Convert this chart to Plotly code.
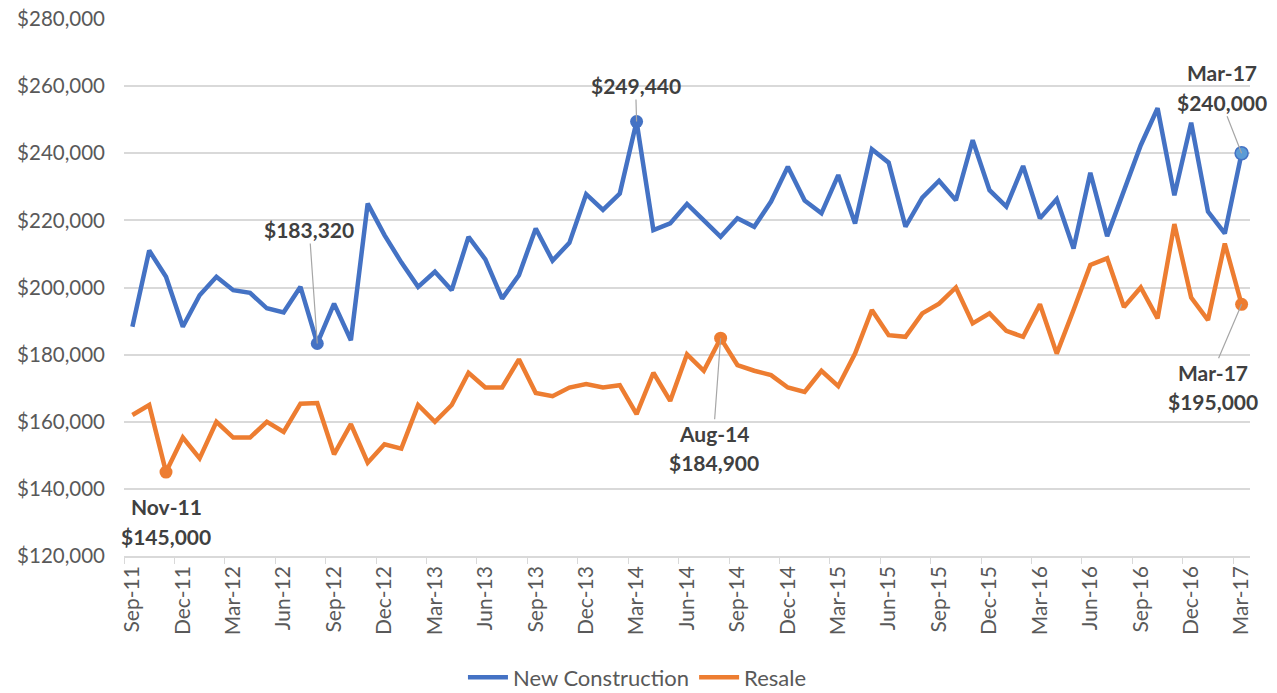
import plotly.graph_objects as go

months = ["Sep-11","Oct-11","Nov-11","Dec-11","Jan-12","Feb-12","Mar-12","Apr-12","May-12","Jun-12","Jul-12","Aug-12",
          "Sep-12","Oct-12","Nov-12","Dec-12","Jan-13","Feb-13","Mar-13","Apr-13","May-13","Jun-13","Jul-13","Aug-13",
          "Sep-13","Oct-13","Nov-13","Dec-13","Jan-14","Feb-14","Mar-14","Apr-14","May-14","Jun-14","Jul-14","Aug-14",
          "Sep-14","Oct-14","Nov-14","Dec-14","Jan-15","Feb-15","Mar-15","Apr-15","May-15","Jun-15","Jul-15","Aug-15",
          "Sep-15","Oct-15","Nov-15","Dec-15","Jan-16","Feb-16","Mar-16","Apr-16","May-16","Jun-16","Jul-16","Aug-16",
          "Sep-16","Oct-16","Nov-16","Dec-16","Jan-17","Feb-17","Mar-17"]

new_construction = [188300, 211000, 203200, 188300, 197700, 203200, 199200, 198400, 193800, 192600, 200200, 183320,
                    195200, 184300, 225000, 215600, 207500, 200200, 204700, 199200, 215100, 208400, 196700, 203700,
                    217600, 208000, 213300, 227800, 223100, 228000, 249440, 217100, 219100, 224900, 220000, 215100,
                    220600, 218100, 225600, 236000, 225900, 222100, 233500, 219100, 241200, 237200, 218100, 226800,
                    231800, 226000, 243900, 229000, 224100, 236200, 220600, 226300, 211600, 234200, 215300, 229000,
                    242400, 253400, 227500, 249100, 222600, 216100, 240000]

resale = [162000, 165000, 145000, 155300, 149100, 160000, 155300, 155300, 160000, 157000, 165400, 165600,
          150300, 159300, 147800, 153300, 152000, 165000, 160000, 165000, 174600, 170200, 170200, 178600,
          168600, 167600, 170200, 171200, 170200, 170900, 162300, 174600, 166200, 180100, 175200, 184900,
          176900, 175200, 173900, 170200, 168900, 175200, 170600, 180300, 193300, 185800, 185300, 192300,
          195200, 200000, 189300, 192300, 187100, 185300, 195000, 180300, 193300, 206700, 208700, 194200,
          200000, 190800, 218900, 197000, 190300, 213100, 195000]

BLUE = "#4472C4"
ORANGE = "#ED7D31"
GRID = "#D9D9D9"
TXT = "#595959"
LBL = "#404040"
FONT = "Lato"

fig = go.Figure()
fig.add_trace(go.Scatter(x=months, y=new_construction, mode="lines", name="New Construction",
                         line=dict(color=BLUE, width=4.5)))
fig.add_trace(go.Scatter(x=months, y=resale, mode="lines", name="Resale",
                         line=dict(color=ORANGE, width=4.5)))

# highlighted points
hl_blue = ["Aug-12", "Mar-14"]
fig.add_trace(go.Scatter(x=hl_blue, y=[new_construction[months.index(m)] for m in hl_blue], mode="markers",
                         marker=dict(color=BLUE, size=13), showlegend=False, hoverinfo="skip"))
fig.add_trace(go.Scatter(x=["Mar-17"], y=[new_construction[-1]], mode="markers",
                         marker=dict(color="#5B9BD5", size=13, line=dict(color=BLUE, width=1.5)),
                         showlegend=False, hoverinfo="skip"))
hl_orange = ["Nov-11", "Aug-14", "Mar-17"]
fig.add_trace(go.Scatter(x=hl_orange, y=[resale[months.index(m)] for m in hl_orange], mode="markers",
                         marker=dict(color=ORANGE, size=13), showlegend=False, hoverinfo="skip"))

lab_font = dict(family=FONT, size=21, color=LBL)

def label(series, month, near, far, ax, ay, far_dy, show_arrow=True):
    y = series[months.index(month)]
    fig.add_annotation(x=month, y=y, text="<b>%s</b>" % near, showarrow=True, arrowhead=0,
                       arrowwidth=1.2, arrowcolor="#A6A6A6" if show_arrow else "rgba(0,0,0,0)",
                       ax=ax, ay=ay, font=lab_font)
    if far:
        fig.add_annotation(x=month, y=y, text="<b>%s</b>" % far, showarrow=True, arrowhead=0,
                           arrowcolor="rgba(0,0,0,0)", ax=ax, ay=ay + far_dy, font=lab_font)

label(new_construction, "Aug-12", "$183,320", None, -8, -114, 0)
label(new_construction, "Mar-14", "$249,440", None, -1, -36, 0)
label(new_construction, "Mar-17", "$240,000", "Mar-17", -20, -51, -30)
label(resale, "Aug-14", "Aug-14", "$184,900", -7, 95, 29)
label(resale, "Nov-11", "Nov-11", "$145,000", 0, 34, 30, show_arrow=False)
label(resale, "Mar-17", "Mar-17", "$195,000", -29, 68, 29)

fig.update_layout(
    width=1277, height=693,
    margin=dict(l=124, r=27, t=19, b=137, autoexpand=False),
    paper_bgcolor="white", plot_bgcolor="white",
    font=dict(family=FONT, size=21, color=TXT),
    showlegend=True,
    legend=dict(orientation="h", x=0.456, xanchor="center", y=-0.226, yanchor="middle",
                font=dict(family=FONT, size=22, color=TXT), itemwidth=40),
    hovermode=False,
)
fig.update_xaxes(type="category", range=[-0.5, 66.5], tickmode="linear", tick0=0, dtick=3,
                 tickson="boundaries", automargin=False, ticklabeloverflow="allow",
                 ticks="outside", ticklen=6, tickcolor=GRID, tickangle=-90,
                 showgrid=False, showline=True, linecolor=GRID, linewidth=1.5,
                 tickfont=dict(family=FONT, size=21, color=TXT))
fig.update_yaxes(range=[120000, 280000], dtick=20000, tickformat="$,", showgrid=True, automargin=False,
                 ticklabeloverflow="allow",
                 gridcolor=GRID, gridwidth=1.5, zeroline=False, ticks="", ticklabelstandoff=18,
                 tickfont=dict(family=FONT, size=20.5, color=TXT))

# remove the page's default body margin so the figure fills the window exactly
fig.write_html("out.html", config={"displayModeBar": False},
               post_script="document.body.style.margin='0';document.body.style.overflow='hidden';")
